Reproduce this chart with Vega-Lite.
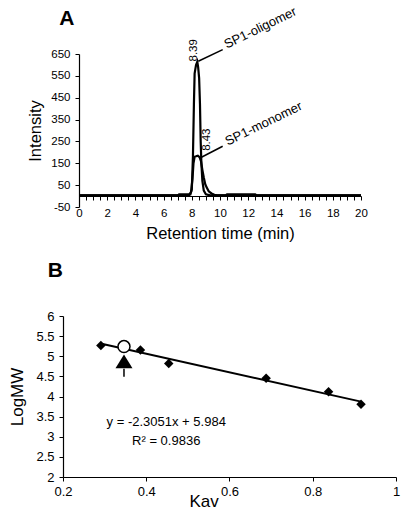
{
  "$schema": "https://vega.github.io/schema/vega-lite/v6.json",
  "padding": {"left": 8, "top": 5, "right": 5, "bottom": 5},
  "background": "white",
  "bounds": "flush",
  "spacing": 109,
  "config": {
    "view": {"stroke": null},
    "font": "Liberation Sans",
    "axis": {"grid": false, "domainColor": "black", "tickColor": "black", "labelColor": "black", "titleColor": "black", "titleFontWeight": "normal", "labelFont": "Liberation Sans", "titleFont": "Liberation Sans", "domainWidth": 1.2, "tickWidth": 1, "labelOverlap": false, "tickCount": 100}
  },
  "datasets": {
    "trace": [
      {"series": "oligomer", "t": 0, "I": 3}, {"series": "oligomer", "t": 7.0, "I": 3}, {"series": "oligomer", "t": 7.1, "I": 8}, {"series": "oligomer", "t": 7.9, "I": 8},
      {"series": "oligomer", "t": 8.0, "I": 30}, {"series": "oligomer", "t": 8.08, "I": 180}, {"series": "oligomer", "t": 8.15, "I": 420}, {"series": "oligomer", "t": 8.2, "I": 560},
      {"series": "oligomer", "t": 8.3, "I": 600}, {"series": "oligomer", "t": 8.39, "I": 615}, {"series": "oligomer", "t": 8.45, "I": 590}, {"series": "oligomer", "t": 8.52, "I": 540},
      {"series": "oligomer", "t": 8.58, "I": 420}, {"series": "oligomer", "t": 8.63, "I": 250}, {"series": "oligomer", "t": 8.68, "I": 150}, {"series": "oligomer", "t": 8.75, "I": 70},
      {"series": "oligomer", "t": 8.85, "I": 25}, {"series": "oligomer", "t": 9.0, "I": 8}, {"series": "oligomer", "t": 9.3, "I": 3}, {"series": "oligomer", "t": 10.4, "I": 3},
      {"series": "oligomer", "t": 10.5, "I": 8}, {"series": "oligomer", "t": 12.5, "I": 8}, {"series": "oligomer", "t": 12.6, "I": 3}, {"series": "oligomer", "t": 20, "I": 3},
      {"series": "monomer", "t": 0, "I": 3}, {"series": "monomer", "t": 7.8, "I": 3}, {"series": "monomer", "t": 7.95, "I": 20}, {"series": "monomer", "t": 8.05, "I": 80},
      {"series": "monomer", "t": 8.12, "I": 150}, {"series": "monomer", "t": 8.2, "I": 180}, {"series": "monomer", "t": 8.3, "I": 182}, {"series": "monomer", "t": 8.43, "I": 185},
      {"series": "monomer", "t": 8.55, "I": 178}, {"series": "monomer", "t": 8.65, "I": 160}, {"series": "monomer", "t": 8.75, "I": 120}, {"series": "monomer", "t": 8.85, "I": 85},
      {"series": "monomer", "t": 8.95, "I": 55}, {"series": "monomer", "t": 9.05, "I": 40}, {"series": "monomer", "t": 9.2, "I": 22}, {"series": "monomer", "t": 9.4, "I": 12},
      {"series": "monomer", "t": 9.6, "I": 6}, {"series": "monomer", "t": 9.8, "I": 3}, {"series": "monomer", "t": 20, "I": 3}
    ],
    "leaders": [
      {"t": 8.46, "I": 617, "t2": 10.19, "I2": 670},
      {"t": 8.58, "I": 174, "t2": 10.19, "I2": 228}
    ],
    "peaklabels": [
      {"t": 8.18, "I": 667, "label": "8.39"},
      {"t": 9.06, "I": 258, "label": "8.43"}
    ],
    "names": [
      {"t": 10.35, "I": 690, "label": "SP1-oligomer"},
      {"t": 10.43, "I": 247, "label": "SP1-monomer"}
    ],
    "standards": [
      {"kav": 0.291, "logmw": 5.27},
      {"kav": 0.386, "logmw": 5.157},
      {"kav": 0.454, "logmw": 4.82},
      {"kav": 0.688, "logmw": 4.454},
      {"kav": 0.838, "logmw": 4.116},
      {"kav": 0.916, "logmw": 3.81}
    ],
    "fit": [{"kav": 0.29, "logmw": 5.3155, "kav2": 0.916, "logmw2": 3.8725}],
    "sample": [{"kav": 0.3465, "logmw": 5.24}],
    "arrowhead": [{"kav": 0.3465, "logmw": 4.872}],
    "arrowstem": [{"kav": 0.3465, "logmw": 4.69, "logmw2": 4.49}],
    "equation": [
      {"kav": 0.448, "logmw": 3.36, "label": "y = -2.3051x + 5.984"},
      {"kav": 0.448, "logmw": 2.9, "label": "R² = 0.9836"}
    ]
  },
  "vconcat": [
    {
      "width": 298,
      "height": 153,
      "layer": [
        {
          "data": {"name": "trace"},
          "mark": {"type": "line", "color": "black", "strokeWidth": 2.2, "clip": false},
          "encoding": {
            "x": {"field": "t", "type": "quantitative", "scale": {"domain": [0, 20], "range": [16, 298], "nice": false, "zero": false},
              "axis": {"values": [0,0.5,1,1.5,2,2.5,3,3.5,4,4.5,5,5.5,6,6.5,7,7.5,8,8.5,9,9.5,10,10.5,11,11.5,12,12.5,13,13.5,14,14.5,15,15.5,16,16.5,17,17.5,18,18.5,19,19.5,20],
                "labelExpr": "datum.value % 2 == 0 ? '' + datum.value : ''", "labelOverlap": false, "labelFlush": false, "tickCount": 100,
                "offset": -11, "tickSize": 4, "labelPadding": 7, "labelFontSize": 11.5,
                "title": "Retention time (min)", "titleFontSize": 16.5, "titleY": 37, "titleBaseline": "middle"}},
            "y": {"field": "I", "type": "quantitative", "scale": {"domain": [-50, 650], "nice": false, "zero": false},
              "axis": {"values": [-50,50,150,250,350,450,550,650], "labelExpr": "datum.value < 0 ? '-' + abs(datum.value) : '' + datum.value",
                "offset": -16, "tickSize": 4, "labelPadding": 5, "labelFontSize": 11.5, "labelOverlap": false, "tickCount": 100,
                "title": "Intensity", "titleFontSize": 16.5, "titleX": -44, "titleBaseline": "middle"}},
            "detail": {"field": "series"}
          }
        },
        {
          "data": {"name": "leaders"},
          "mark": {"type": "rule", "color": "black", "strokeWidth": 1.5},
          "encoding": {
            "x": {"field": "t", "type": "quantitative"},
            "y": {"field": "I", "type": "quantitative"},
            "x2": {"field": "t2"},
            "y2": {"field": "I2"}
          }
        },
        {
          "data": {"name": "peaklabels"},
          "mark": {"type": "text", "angle": 270, "align": "center", "baseline": "middle", "fontSize": 11.5, "color": "black"},
          "encoding": {
            "x": {"field": "t", "type": "quantitative"},
            "y": {"field": "I", "type": "quantitative"},
            "text": {"field": "label"}
          }
        },
        {
          "data": {"name": "names"},
          "mark": {"type": "text", "angle": 334, "align": "left", "baseline": "middle", "fontSize": 13, "color": "black"},
          "encoding": {
            "x": {"field": "t", "type": "quantitative"},
            "y": {"field": "I", "type": "quantitative"},
            "text": {"field": "label"}
          }
        },
        {
          "data": {"values": [{"t": -0.87, "I": 811, "label": "A"}]},
          "mark": {"type": "text", "align": "center", "baseline": "middle", "fontSize": 21, "fontWeight": "bold", "color": "black"},
          "encoding": {
            "x": {"field": "t", "type": "quantitative"},
            "y": {"field": "I", "type": "quantitative"},
            "text": {"field": "label"}
          }
        }
      ]
    },
    {
      "width": 333,
      "height": 161,
      "layer": [
        {
          "data": {"name": "fit"},
          "mark": {"type": "rule", "color": "black", "strokeWidth": 2},
          "encoding": {
            "x": {"field": "kav", "type": "quantitative", "scale": {"domain": [0.2, 1], "nice": false, "zero": false},
              "axis": {"values": [0.2,0.4,0.6,0.8,1], "format": "~g", "tickSize": 4, "labelPadding": 4, "labelFontSize": 13, "labelFlush": false, "labelOverlap": false, "tickCount": 100,
                "title": "Kav", "titleFontSize": 17, "titleX": 140.6, "titleY": 24.3, "titleBaseline": "middle"}},
            "y": {"field": "logmw", "type": "quantitative", "scale": {"domain": [2, 6], "nice": false, "zero": false},
              "axis": {"values": [2,2.5,3,3.5,4,4.5,5,5.5,6], "format": "~g", "tickSize": 4, "labelPadding": 5, "labelFontSize": 13, "labelOverlap": false, "tickCount": 100,
                "title": "LogMW", "titleFontSize": 17, "titleX": -46, "titleBaseline": "middle"}},
            "x2": {"field": "kav2"},
            "y2": {"field": "logmw2"}
          }
        },
        {
          "data": {"name": "standards"},
          "mark": {"type": "point", "shape": "diamond", "filled": true, "color": "black", "size": 90, "opacity": 1},
          "encoding": {
            "x": {"field": "kav", "type": "quantitative"},
            "y": {"field": "logmw", "type": "quantitative"}
          }
        },
        {
          "data": {"name": "sample"},
          "mark": {"type": "point", "shape": "circle", "filled": false, "fill": "white", "stroke": "black", "strokeWidth": 1.5, "size": 144, "opacity": 1},
          "encoding": {
            "x": {"field": "kav", "type": "quantitative"},
            "y": {"field": "logmw", "type": "quantitative"}
          }
        },
        {
          "data": {"name": "arrowstem"},
          "mark": {"type": "rule", "color": "black", "strokeWidth": 1.5},
          "encoding": {
            "x": {"field": "kav", "type": "quantitative"},
            "y": {"field": "logmw", "type": "quantitative"},
            "y2": {"field": "logmw2"}
          }
        },
        {
          "data": {"name": "arrowhead"},
          "mark": {"type": "point", "shape": "M0,-0.82L-1,0.82L1,0.82Z", "filled": true, "color": "black", "size": 289, "opacity": 1},
          "encoding": {
            "x": {"field": "kav", "type": "quantitative"},
            "y": {"field": "logmw", "type": "quantitative"}
          }
        },
        {
          "data": {"name": "equation"},
          "mark": {"type": "text", "align": "center", "baseline": "middle", "fontSize": 13, "color": "black"},
          "encoding": {
            "x": {"field": "kav", "type": "quantitative"},
            "y": {"field": "logmw", "type": "quantitative"},
            "text": {"field": "label"}
          }
        },
        {
          "data": {"values": [{"kav": 0.1815, "logmw": 7.12, "label": "B"}]},
          "mark": {"type": "text", "align": "center", "baseline": "middle", "fontSize": 21, "fontWeight": "bold", "color": "black"},
          "encoding": {
            "x": {"field": "kav", "type": "quantitative"},
            "y": {"field": "logmw", "type": "quantitative"},
            "text": {"field": "label"}
          }
        }
      ]
    }
  ]
}
